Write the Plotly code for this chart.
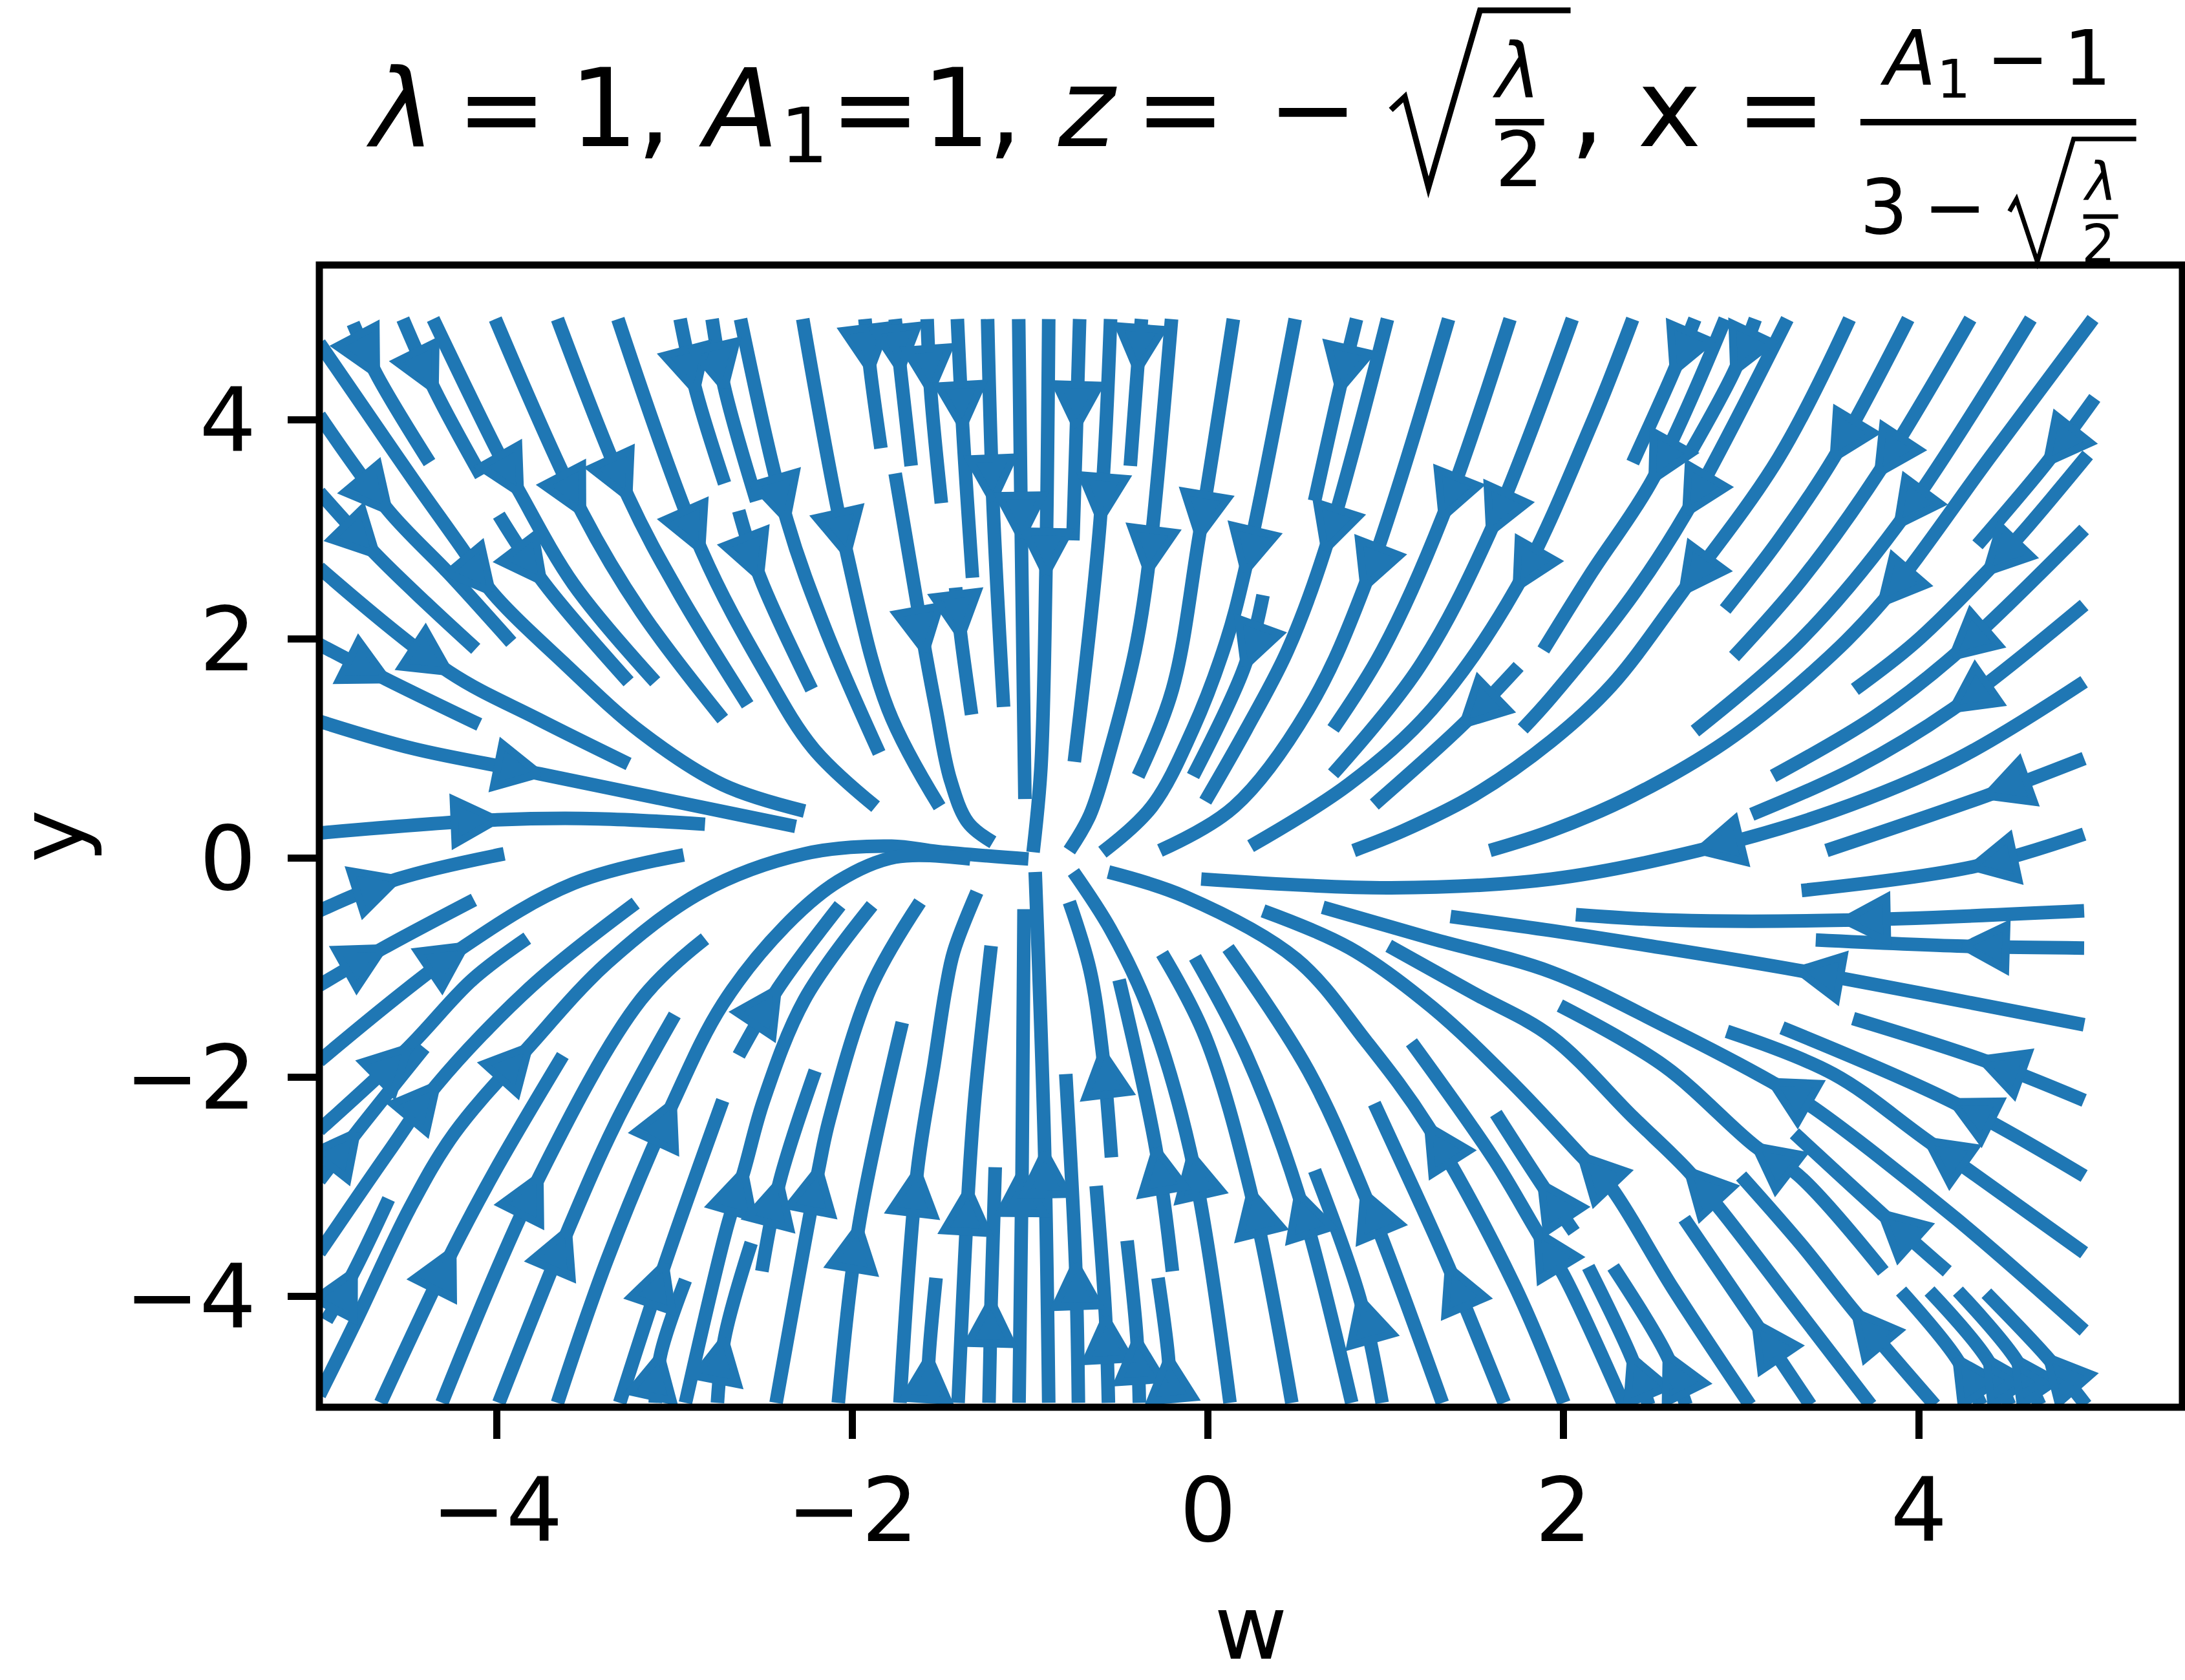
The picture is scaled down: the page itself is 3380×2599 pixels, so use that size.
import math
import plotly.graph_objects as go

# ---- axis data ----
x_ticks = [-4, -2, 0, 2, 4]
y_ticks = [-4, -2, 0, 2, 4]
x_range = [-5.0, 5.483]
y_range = [-5.01, 5.413]

# ---- streamlines, each listed along the flow (outer end to inner end) ----
stream_x = [
 [-4.81,-4.68,-4.38],[-4.53,-4.35,-4.09],[-4.36,-4.0,-3.87,-3.57,-3.11],[-3.99,-3.74,-3.26],
 [-5,-4.75,-4.47,-4.19,-4.03,-3.61,-3.19,-2.73,-2.27],[-5,-4.61,-4.26,-3.92],[-5,-4.68,-4.40,-4.12],
 [-5,-4.27,-3.77,-3.26],[-5,-4.62,-4.10],[-5,-4.47,-3.76,-2.32],[-5,-4.0,-3.43,-2.83],
 [-4.01,-3.52,-3.19,-2.73],[-3.66,-3.26,-2.98,-2.59],[-3.32,-2.85,-2.50,-2.22,-1.87],
 [-2.97,-2.88,-2.72],[-2.79,-2.72,-2.54],[-2.63,-2.37,-2.15,-1.85],[-2.64,-2.52,-2.23],
 [-2.28,-2.03,-1.80,-1.51],[-1.93,-1.90,-1.84],[-1.76,-1.73,-1.67],[-1.58,-1.56,-1.50],
 [-1.76,-1.59,-1.53,-1.45,-1.35,-1.21],[-1.42,-1.39,-1.33],[-1.41,-1.38,-1.325],[-1.24,-1.21,-1.15],
 [-1.065,-1.05,-1.03],[-.896,-.912,-.94,-.984],[-.722,-.74,-.76],[-.548,-.606,-.752],
 [-.374,-.397,-.437],[-.205,-.339,-.409,-.548,-.664,-.78],[.143,-.05,-.20,-.393],
 [.491,.206,.101,-.084,-.316,-.594],[.31,.206,-.084],[.836,.739,.60],[1.01,.658,.449,.217,-.015],
 [1.354,.878,.565,.148,-.27],[1.70,1.319,.983,.704],[2.05,1.586,1.191,.704],
 [2.39,2.16,1.736,1.261,.797,.24],[1.748,1.435,.936],[2.74,2.62,2.39],[2.91,2.50,2.16,1.887],
 [3.08,2.96,2.72],[3.26,2.69,2.39,1.933,1.771],[3.61,3.21,2.67,2.27,1.933,1.493,1.098,.82],
 [3.94,3.52,3.21,2.91],[4.29,3.77,3.34,2.96],[4.63,3.88,3.34,2.74],
 [4.98,4.41,3.79,3.39,2.91,2.39,1.933,1.586],[4.99,4.72,4.33],[4.95,4.62,4.38,3.98,3.64],
 [4.93,4.19,3.75,3.18],[4.93,4.19,3.64,3.06],[4.93,4.21,3.52,2.76,1.933,1.03,-.038],
 [4.93,4.38,3.48],[4.93,4.30,3.34],[4.93,3.58,2.62,2.07],[4.93,4.25,3.42],
 [4.93,3.32,2.50,1.933,1.365],[4.93,4.35,3.63],[4.93,4.19,3.23],[4.93,4.05,3.52,2.92],
 [4.93,4.21,3.41,3.17,2.57,1.933,1.261,.646],[4.16,3.79,3.30],[3.80,3.32,3.08,2.57,1.98],
 [3.73,3.36,2.89,2.70,2.39,1.933,1.493,1.017],[3.05,2.62,2.26,2.10,1.725,1.261,.797,.31],
 [2.003,1.725,1.238,.89,.496,-.13,-.56],[1.667,1.354,1.168,.936],[1.319,.878,.565,.113],
 [.809,.507,.217,-.073],[.472,.24,-.015,-.258],[.124,-.096,-.339,-.548,-.757],[-.20,-.293,-.50],
 [.98,.855,.60],[-.543,-.594,-.664,-.78],[2.34,2.0,1.852,1.61,1.145],[2.06,1.875,1.62],
 [2.48,2.38,2.14],[2.69,2.58,2.28],[3.39,3.08,2.68],[4.09,3.64,3.34,3.0],[4.35,4.21,3.90],
 [4.51,4.38,4.06],[4.68,4.54,4.22],[4.94,4.72,4.38],
 [-1.733,-1.635,-1.54,-1.475,-1.43,-1.30],[-1.406,-1.348,-1.313,-1.22],[-1.063,-1.046,-1.035],
 [-.896,-.919,-.972],[-.729,-.745,-.80],[-1.232,-1.22,-1.197],[-.56,-.576,-.629],
 [-.386,-.40,-.455],[-.21,-.223,-.281],[-1.58,-1.57,-1.53],
 [-5,-4.56,-3.96],[-5,-4.64,-4.13],[-5,-4.18,-3.57,-2.95],[-5,-4.50,-4.14,-3.83],[-5,-4.79,-4.41],
 [-5,-4.61,-4.34,-3.80,-3.22],[-4.96,-4.805,-4.61],
 [-5,-4.79,-4.49,-4.24,-3.82,-3.38,-2.85,-2.27,-1.78,-1.52,-1.01],
 [-3.66,-3.38,-3.01,-2.73,-2.38,-2.08,-1.76,-1.337],[-3.99,-3.60,-3.33,-3.0],[-4.655,-4.25,-4.0,-3.63],
 [-4.31,-3.76,-3.19,-2.83],[-3.31,-3.055,-2.73],[-2.64,-2.42,-2.07],
 [-2.94,-2.71,-2.61,-2.50,-2.27,-1.89],[-2.43,-2.19,-2.13,-1.90,-1.62],[-2.51,-2.41,-2.21],
 [-2.08,-1.965,-1.72],[-2.76,-2.72,-2.57],[-3.11,-3.08,-2.94],
]
stream_y = [
 [4.88,4.42,3.61],[4.92,4.27,3.49],[4.92,3.72,3.33,2.5,1.61],[3.13,2.52,1.61],
 [4.70,4.11,3.45,2.81,2.43,1.76,1.15,.67,.43],[4.04,3.17,2.58,1.97],[3.34,2.77,2.33,1.91],
 [2.65,1.70,1.27,.86],[1.95,1.63,1.22],[1.25,1.0,.77,.29],[.23,.35,.36,.31],
 [4.92,3.15,2.25,1.27],[4.92,3.29,2.43,1.40],[4.92,2.81,1.72,1.0,.47],
 [4.92,4.26,3.42],[4.92,4.29,3.26],[4.92,3.09,2.08,.96],[3.17,2.56,1.54],
 [4.92,2.77,1.36,.47],[4.92,4.45,3.74],[4.92,4.45,3.58],[4.92,4.26,3.24],
 [3.51,1.88,1.36,.72,.325,.145],[2.47,2.02,1.31],[4.92,3.93,2.56],[4.92,3.26,1.38],
 [4.92,2.92,.54],[4.92,2.59,.82,.055],[4.92,3.93,2.90],[4.92,3.09,.88],
 [4.92,4.45,3.58],[4.92,2.61,1.90,1.0,.395,.07],[4.92,2.93,1.54,.75],
 [4.92,2.61,1.97,1.18,.47,.055],[2.40,1.75,.75],[4.92,4.27,3.26],[4.92,2.81,1.90,1.18,.52],
 [4.92,2.47,1.36,.47,.07],[4.92,3.11,1.90,1.18],[4.92,2.97,1.75,.77],
 [4.92,3.97,2.47,1.36,.68,.11],[1.75,1.22,.49],[4.92,4.44,3.61],[4.92,3.45,2.61,1.90],
 [4.92,4.44,3.72],[4.92,3.15,2.40,1.47,1.18],[4.92,3.65,2.43,1.575,1.07,.57,.25,.07],
 [4.92,3.65,2.90,2.27],[4.92,3.51,2.54,1.84],[4.92,3.04,2.0,1.16],
 [4.92,3.68,2.33,1.68,1.06,.57,.25,.07],[4.20,3.61,2.86],[3.68,3.04,2.61,1.97,1.54],
 [3.0,1.84,1.29,.75],[2.31,1.36,.82,.40],[1.61,.90,.43,.07,-.19,-.27,-.19],
 [.91,.57,.07],[.22,-.08,-.295],[-.48,-.566,-.566,-.515],[-.82,-.803,-.746],
 [-1.52,-1.023,-.803,-.661,-.532],[-2.21,-1.836,-1.463],[-2.90,-2.225,-1.548],[-3.6,-2.58,-1.97,-1.58],
 [-4.31,-3.29,-2.28,-2.04,-1.53,-1.04,-.735,-.448],[-3.77,-3.24,-2.51],[-3.77,-2.89,-2.63,-1.90,-1.345],
 [-4.99,-4.21,-3.22,-2.85,-2.36,-1.63,-1.23,-.80],[-4.99,-3.935,-2.987,-2.716,-2.07,-1.36,-.82,-.48],
 [-4.97,-3.90,-2.445,-1.67,-.92,-.35,-.126],[-4.97,-3.73,-3.055,-2.24],[-4.97,-3.055,-1.94,-.82],
 [-4.97,-3.055,-1.80,-.905],[-4.97,-3.04,-1.63,-.87],[-4.97,-2.70,-1.36,-.65,-.126],[-3.77,-2.65,-1.11],
 [-4.97,-4.02,-2.85],[-2.73,-1.77,-1.02,-.40],[-4.99,-3.80,-3.41,-2.75,-1.68],[-3.41,-2.97,-2.33],
 [-4.99,-4.545,-3.73],[-4.99,-4.53,-3.73],[-4.99,-4.24,-3.29],[-4.99,-4.14,-3.53,-2.90],[-4.99,-4.56,-3.95],
 [-4.99,-4.56,-3.95],[-4.99,-4.56,-3.95],[-4.99,-4.55,-3.97],
 [-4.97,-2.85,-1.87,-1.19,-.85,-.31],[-4.97,-3.02,-2.21,-.80],[-4.97,-2.85,-.465],
 [-4.97,-2.68,-.126],[-4.97,-3.70,-1.97],[-4.97,-4.04,-2.82],[-4.97,-4.19,-2.99],
 [-4.97,-4.38,-3.49],[-4.97,-4.55,-3.83],[-4.97,-4.55,-3.83],
 [-.48,-.19,.04],[-1.16,-.82,-.38],[-1.85,-.80,-.23,.03],[-2.48,-1.73,-1.11,-.73],[-2.94,-2.50,-1.73],
 [-3.6,-2.68,-2.07,-1.16,-.41],[-4.22,-3.77,-3.11],
 [-4.9,-4.21,-3.19,-2.51,-1.72,-.955,-.31,.04,.11,.06,-.007],
 [-4.97,-3.66,-2.23,-1.33,-.62,-.21,.01,-.007],[-4.97,-3.39,-2.41,-1.43],[-4.97,-3.58,-2.82,-1.80],
 [-4.97,-2.90,-1.29,-.735],[-4.97,-3.70,-2.21],[-1.80,-1.19,-.43],
 [-4.97,-3.39,-2.85,-2.21,-1.29,-.43],[-4.97,-2.83,-2.38,-1.19,-.40],[-3.77,-2.95,-1.94],
 [-4.97,-3.36,-1.50],[-4.97,-4.38,-3.51],[-4.97,-4.53,-3.85],
]
# index, in each streamline, of the point where its arrow tip sits
arrow_at = [
 1,1,2,1, 4,1,1, 1,1,2,1, 1,1,1, 1,1,1,1, 1,1,1,1, 1,1,1,1, 1,1,1,1, 1,1,1, 1,1,1,1,
 1,1,1, 2,1,1,1, 1,1,2, 1,1,1, 2,1,2, 1,1,3, 1,1,1,1, 1,1,1,1, 3,1,2, 3,3,
 2,1,1, 1,1,1,1, 1,1,2,1, 1,1,1,1,1, 1,1,1,
 1,1,1, 1,1,1,1, 1,1,1,
 1,1,1,1,1, 2,1, 4, 2,1,1, 1,1,1, 2,1,1, 1,1,1,
]

BLUE = "#1f77b4"
W, H = 3380, 2599
L_M, R_M, T_M, B_M = 493.5, 4, 410, 422.4
PLOT_W, PLOT_H = W - L_M - R_M, H - T_M - B_M
UX = PLOT_W / (x_range[1] - x_range[0])   # screen pixels per data unit
UY = PLOT_H / (y_range[1] - y_range[0])
ARROW_LEN, ARROW_WID, ARROW_STROKE = 66, 68, 12

fig = go.Figure()
for sx, sy in zip(stream_x, stream_y):
    fig.add_trace(go.Scatter(x=sx, y=sy, mode="lines", hoverinfo="skip", showlegend=False,
                             line=dict(color=BLUE, width=21, shape="spline", smoothing=1.0)))

# arrow heads: triangles placed on the stream data, shaped in screen units
ax, ay = [], []
for sx, sy, k in zip(stream_x, stream_y, arrow_at):
    def unit(i, j):
        dx, dy = (sx[j] - sx[i]) * UX, (sy[j] - sy[i]) * UY
        n = math.hypot(dx, dy) or 1
        return dx / n, dy / n
    a = unit(k - 1, k)
    b = unit(k, k + 1) if k + 1 < len(sx) else a
    dx, dy = a[0] + b[0], a[1] + b[1]
    n = math.hypot(dx, dy) or 1
    dx, dy = dx / n, dy / n
    bx, by = -dx * ARROW_LEN, -dy * ARROW_LEN
    px_, py_ = -dy * ARROW_WID / 2, dx * ARROW_WID / 2
    ax += [sx[k], sx[k] + (bx + px_) / UX, sx[k] + (bx - px_) / UX, sx[k], None]
    ay += [sy[k], sy[k] + (by + py_) / UY, sy[k] + (by - py_) / UY, sy[k], None]
fig.add_trace(go.Scatter(x=ax, y=ay, mode="lines", fill="toself", fillcolor=BLUE, hoverinfo="skip",
                         showlegend=False, line=dict(color=BLUE, width=ARROW_STROKE)))

# ---- title, set piece by piece the way the stacked formula is set ----
S = W / 1568
def px(X): return (X - L_M) / PLOT_W
def py(Y): return 1 - (Y - T_M) / PLOT_H

title_parts = [
 ("<i>λ</i>",287,227,167),("=",360,227,167),("1",433,227,167),(",",469,227,167),
 ("<i>A</i>",530,227,167),("1",577,253,117),("=",628,227,167),("1",686,227,167),(",",721,227,167),
 ("<i>z</i>",780,227,167),("=",847,227,167),("−",942,227,167),
 ("<i>λ</i>",1088,152,117),("2",1090,290,117),(",",1139,227,167),
 ("x",1198,227,167),("=",1278,227,167),
 ("<i>A</i>",1369,133,117),("1",1402,152,82),("−",1448,133,117),("1",1498,133,117),
 ("3",1352,363,117),("−",1403,363,117),("<i>λ</i>",1507,310,82),("2",1506,407,82),
]
annotations = []
for text, cx, base, size in title_parts:
    annotations.append(dict(text=text, x=px(cx * S), y=py(base), xref="paper", yref="paper",
                            xanchor="center", yanchor="bottom", yshift=-0.24 * size, showarrow=False,
                            font=dict(family="DejaVu Sans", size=size, color="black")))

def path(points):
    return "M " + " L ".join(f"{px(a * S)},{py(b)}" for a, b in points)

shapes = []
for pts, w in [
    ([(998,170),(1008,150),(1025,290),(1062,16),(1127,16)], 9),
    ([(1442,327),(1447,308),(1462,405),(1488,215),(1533,215)], 7),
    ([(1073,189),(1108,189)], 10),
    ([(1335,189),(1533,189)], 10),
    ([(1495,335),(1520,335)], 7),
]:
    shapes.append(dict(type="path", path=path(pts), xref="paper", yref="paper",
                       line=dict(color="black", width=w), layer="above"))
shapes.append(dict(type="rect", x0=0, x1=1, y0=0, y1=1, xref="paper", yref="paper",
                   line=dict(color="black", width=11), layer="above"))

axis = dict(showgrid=False, zeroline=False, showline=False, ticks="outside", ticklen=48, tickwidth=11,
            tickcolor="black", tickfont=dict(family="DejaVu Sans", size=138, color="black"))
fig.update_layout(
    width=W, height=H, paper_bgcolor="white", plot_bgcolor="white",
    margin=dict(l=L_M, r=R_M, t=T_M, b=B_M, autoexpand=False),
    font=dict(family="DejaVu Sans", color="black"),
    annotations=annotations, shapes=shapes, showlegend=False,
    xaxis=dict(axis, range=x_range, tickvals=x_ticks, ticktext=["−4","−2","0","2","4"],
               ticklabelstandoff=-8,
               title=dict(text="w", font=dict(size=138), standoff=72)),
    yaxis=dict(axis, range=y_range, tickvals=y_ticks, ticktext=["−4","−2","0","2","4"],
               ticklabelstandoff=21,
               title=dict(text="y", font=dict(size=138), standoff=97)),
)
fig.write_html("out.html", config={"displayModeBar": False},
               post_script="document.body.style.margin='0';document.documentElement.style.overflow='hidden';")
